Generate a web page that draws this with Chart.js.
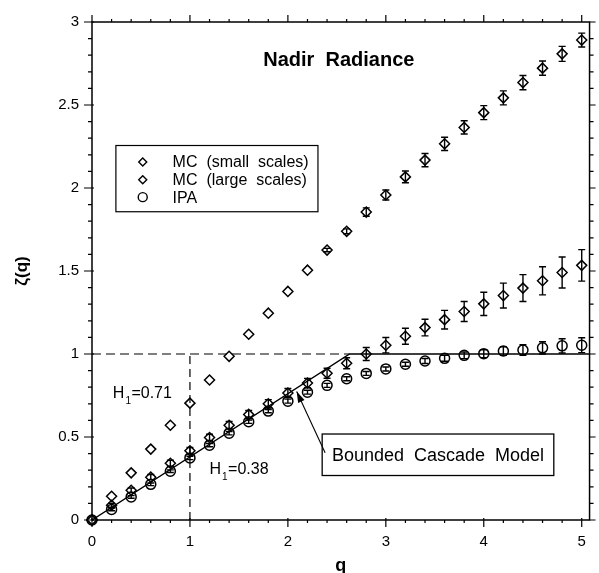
<!DOCTYPE html>
<html>
<head>
<meta charset="utf-8">
<title>Nadir Radiance</title>
<script src="https://cdn.jsdelivr.net/npm/chart.js@4.4.1/dist/chart.umd.min.js"></script>
<style>
    html, body { margin: 0; padding: 0; background: #fff; }
    #wrap { width: 599px; height: 573px; }
</style>
</head>
<body>
<div id="wrap"><canvas id="zetaChart" width="599" height="573"></canvas></div>
<script>
// Moment orders q
const qValues = [0, 0.2, 0.4, 0.6, 0.8, 1, 1.2, 1.4, 1.6, 1.8, 2, 2.2, 2.4,
    2.6, 2.8, 3, 3.2, 3.4, 3.6, 3.8, 4, 4.2, 4.4, 4.6, 4.8, 5];

// zeta(q) for each series, with +/- error
const mcSmall = [0, 0.143, 0.284, 0.427, 0.571, 0.704, 0.843, 0.986, 1.119, 1.246, 1.377, 1.505, 1.626,
    1.739, 1.855, 1.958, 2.067, 2.168, 2.266, 2.365, 2.454, 2.543, 2.635, 2.722, 2.808, 2.891];
const mcSmallErr = [0, 0, 0, 0, 0, 0, 0, 0, 0, 0, 0, 0, 0.01,
    0.015, 0.025, 0.03, 0.035, 0.04, 0.04, 0.04, 0.042, 0.042, 0.043, 0.043, 0.045, 0.042];

const mcLarge = [0, 0.089, 0.179, 0.258, 0.342, 0.417, 0.497, 0.571, 0.636, 0.700, 0.765, 0.825, 0.884,
    0.944, 1.000, 1.053, 1.107, 1.159, 1.207, 1.256, 1.302, 1.352, 1.397, 1.441, 1.491, 1.534];
const mcLargeErr = [0, 0.012, 0.014, 0.016, 0.018, 0.02, 0.02, 0.022, 0.024, 0.025, 0.027, 0.028, 0.03,
    0.033, 0.039, 0.046, 0.048, 0.05, 0.056, 0.06, 0.07, 0.075, 0.081, 0.085, 0.093, 0.095];

const ipa = [0, 0.064, 0.139, 0.215, 0.294, 0.374, 0.451, 0.523, 0.592, 0.656, 0.716, 0.770, 0.811,
    0.851, 0.883, 0.910, 0.938, 0.958, 0.974, 0.992, 1.002, 1.018, 1.024, 1.037, 1.049, 1.053];
const ipaErr = [0, 0.008, 0.008, 0.008, 0.008, 0.01, 0.01, 0.01, 0.01, 0.01, 0.012, 0.012, 0.012,
    0.012, 0.012, 0.012, 0.012, 0.015, 0.018, 0.02, 0.024, 0.026, 0.032, 0.037, 0.043, 0.045];

// Bounded cascade model, zeta = min(0.38 q, 1)
const modelQ = [0, 2.63, 5.08];
const modelZeta = [0, 1, 1];

// Dashed guides
const hGuideQ = [0, 2.63];
const hGuideZeta = [1, 1];
const vGuideQ = [1, 1];
const vGuideZeta = [0, 1];

// Axis ticks
const xTicks = [0, 1, 2, 3, 4, 5];
const yTicks = [0, 0.5, 1, 1.5, 2, 2.5, 3];

const FONT = '"Liberation Sans", Arial, Helvetica, sans-serif';

const toPoints = (xs, ys) => xs.map((x, i) => ({ x: x, y: ys[i] }));

function markerSet(label, values, errors, style) {
    return {
        label: label,
        data: toPoints(qValues, values),
        errors: errors,
        showLine: false,
        clip: false,
        pointStyle: style,
        pointRadius: 5,
        pointBorderWidth: 1.5,
        borderColor: '#000',
        backgroundColor: 'rgba(0,0,0,0)'
    };
}

function lineSet(xs, ys, dash) {
    return {
        label: '',
        data: toPoints(xs, ys),
        showLine: true,
        pointRadius: 0,
        borderColor: '#000',
        borderWidth: dash ? 1.2 : 1.4,
        borderDash: dash || [],
        fill: false
    };
}

// Vertical error bars with caps
const errorBars = {
    id: 'errorBars',
    afterDatasetsDraw(chart) {
        const ctx = chart.ctx;
        const yScale = chart.scales.y;
        ctx.save();
        ctx.strokeStyle = '#000';
        ctx.lineWidth = 1.4;
        chart.data.datasets.forEach((ds, di) => {
            if (!ds.errors) return;
            const meta = chart.getDatasetMeta(di);
            meta.data.forEach((pt, i) => {
                const e = ds.errors[i];
                if (!e) return;
                const v = ds.data[i].y;
                const top = yScale.getPixelForValue(v + e);
                const bot = yScale.getPixelForValue(v - e);
                ctx.beginPath();
                ctx.moveTo(pt.x, top);
                ctx.lineTo(pt.x, bot);
                ctx.moveTo(pt.x - 3.5, top);
                ctx.lineTo(pt.x + 3.5, top);
                ctx.moveTo(pt.x - 3.5, bot);
                ctx.lineTo(pt.x + 3.5, bot);
                ctx.stroke();
            });
        });
        ctx.restore();
    }
};

function diamond(ctx, x, y, r) {
    ctx.beginPath();
    ctx.moveTo(x - r, y);
    ctx.lineTo(x, y - r);
    ctx.lineTo(x + r, y);
    ctx.lineTo(x, y + r);
    ctx.closePath();
    ctx.stroke();
}

function circle(ctx, x, y, r) {
    ctx.beginPath();
    ctx.arc(x, y, r, 0, Math.PI * 2);
    ctx.stroke();
}

// Frame, tick marks, title, legend and annotations
const decorations = {
    id: 'decorations',
    afterDraw(chart) {
        const ctx = chart.ctx;
        const xs = chart.scales.x;
        const ys = chart.scales.y;
        const px = q => xs.getPixelForValue(q);
        const py = z => ys.getPixelForValue(z);
        const area = chart.chartArea;
        const left = area.left, right = area.right, top = area.top, bottom = area.bottom;

        ctx.save();
        ctx.strokeStyle = '#000';
        ctx.fillStyle = '#000';

        // frame
        ctx.lineWidth = 1.5;
        ctx.strokeRect(left, top, right - left, bottom - top);

        // x ticks every 0.2, major on integers
        ctx.lineWidth = 1.2;
        ctx.beginPath();
        for (let k = 0; k <= 25; k++) {
            const x = px(k * 0.2);
            const major = k % 5 === 0;
            ctx.moveTo(x, bottom - (major ? 2 : 0));
            ctx.lineTo(x, bottom + (major ? 7 : 3));
            ctx.moveTo(x, top);
            ctx.lineTo(x, top - (major ? 7 : 3));
        }
        // y ticks every 0.1, major on halves
        for (let k = 0; k <= 30; k++) {
            const y = py(k * 0.1);
            const major = k % 5 === 0;
            ctx.moveTo(left + (major ? 2 : 0), y);
            ctx.lineTo(left - (major ? 8 : 4), y);
            ctx.moveTo(right, y);
            ctx.lineTo(right + (major ? 6 : 4), y);
        }
        ctx.stroke();

        // title
        ctx.font = 'bold 20px ' + FONT;
        ctx.textAlign = 'center';
        ctx.textBaseline = 'alphabetic';
        ctx.fillText('Nadir  Radiance', px(2.52), py(2.732));

        // legend
        const lx0 = px(0.244), ly0 = py(2.256), lx1 = px(2.307), ly1 = py(1.857);
        ctx.lineWidth = 1.2;
        ctx.strokeRect(lx0, ly0, lx1 - lx0, ly1 - ly0);
        const rows = [2.157, 2.05, 1.945];
        ctx.font = '16px ' + FONT;
        ctx.textAlign = 'left';
        ctx.textBaseline = 'middle';
        ctx.lineWidth = 1.4;
        [0, 1, 2].forEach(i => {
            const ds = chart.data.datasets[i];
            const y = py(rows[i]);
            if (ds.pointStyle === 'circle') circle(ctx, px(0.518), y, 4.5);
            else diamond(ctx, px(0.518), y, 4);
            ctx.fillText(ds.label, px(0.823), y + 1);
        });

        // exponent labels
        const hLabel = (q, z, value) => {
            const x = px(q), y = py(z);
            ctx.textAlign = 'left';
            ctx.textBaseline = 'alphabetic';
            ctx.font = '16px ' + FONT;
            ctx.fillText('H', x, y);
            const hw = ctx.measureText('H').width;
            ctx.font = '10px ' + FONT;
            ctx.fillText('1', x + hw + 1, y + 6);
            ctx.font = '16px ' + FONT;
            ctx.fillText('=' + value, x + hw + 7, y);
        };
        hLabel(0.213, 0.732, '0.71');
        hLabel(1.2, 0.278, '0.38');

        // model callout
        const bx0 = px(2.35), by0 = py(0.518), bx1 = px(4.715), by1 = py(0.268);
        ctx.fillStyle = '#fff';
        ctx.fillRect(bx0, by0, bx1 - bx0, by1 - by0);
        ctx.fillStyle = '#000';
        ctx.lineWidth = 1.3;
        ctx.strokeRect(bx0, by0, bx1 - bx0, by1 - by0);
        ctx.font = '18px ' + FONT;
        ctx.textAlign = 'center';
        ctx.textBaseline = 'middle';
        ctx.fillText('Bounded  Cascade  Model', (bx0 + bx1) / 2, (by0 + by1) / 2 + 1);

        const tx = px(2.38), ty = py(0.405);
        const hx = px(2.09), hy = py(0.774);
        const ang = Math.atan2(hy - ty, hx - tx);
        ctx.lineWidth = 1.1;
        ctx.beginPath();
        ctx.moveTo(tx, ty);
        ctx.lineTo(hx, hy);
        ctx.stroke();
        ctx.beginPath();
        ctx.moveTo(hx, hy);
        ctx.lineTo(hx - 11 * Math.cos(ang) + 3.5 * Math.sin(ang), hy - 11 * Math.sin(ang) - 3.5 * Math.cos(ang));
        ctx.lineTo(hx - 11 * Math.cos(ang) - 3.5 * Math.sin(ang), hy - 11 * Math.sin(ang) + 3.5 * Math.cos(ang));
        ctx.closePath();
        ctx.fill();

        ctx.restore();
    }
};

const ctx = document.getElementById('zetaChart').getContext('2d');
const zetaChart = new Chart(ctx, {
    type: 'scatter',
    data: {
        datasets: [
            markerSet('MC  (small  scales)', mcSmall, mcSmallErr, 'rectRot'),
            markerSet('MC  (large  scales)', mcLarge, mcLargeErr, 'rectRot'),
            markerSet('IPA', ipa, ipaErr, 'circle'),
            lineSet(modelQ, modelZeta),
            lineSet(hGuideQ, hGuideZeta, [9, 5]),
            lineSet(vGuideQ, vGuideZeta, [8, 5])
        ]
    },
    options: {
        responsive: false,
        animation: false,
        layout: {
            padding: { top: 16, right: 7, left: 0, bottom: 0 }
        },
        plugins: {
            legend: { display: false },
            tooltip: { enabled: false }
        },
        scales: {
            x: {
                type: 'linear',
                min: 0,
                max: 5.08,
                afterBuildTicks: scale => { scale.ticks = xTicks.map(v => ({ value: v })); },
                afterFit: scale => { scale.height = 53; },
                grid: { display: false, drawTicks: false },
                border: { display: false },
                ticks: {
                    color: '#000',
                    padding: 13,
                    maxRotation: 0,
                    callback: v => String(v),
                    font: { family: FONT, size: 15 }
                },
                title: {
                    display: true,
                    text: 'q',
                    color: '#000',
                    padding: 0,
                    font: { family: FONT, size: 18, weight: 'bold', lineHeight: 0.8 }
                }
            },
            y: {
                type: 'linear',
                min: 0,
                max: 3,
                afterBuildTicks: scale => { scale.ticks = yTicks.map(v => ({ value: v })); },
                afterFit: scale => { scale.width = 92; },
                grid: { display: false, drawTicks: false },
                border: { display: false },
                ticks: {
                    color: '#000',
                    padding: 13,
                    callback: v => String(v),
                    font: { family: FONT, size: 15 }
                },
                title: {
                    display: true,
                    text: 'ζ(q)',
                    color: '#000',
                    padding: { top: 12, bottom: 0 },
                    font: { family: FONT, size: 17, weight: 'bold' }
                }
            }
        }
    },
    plugins: [errorBars, decorations]
});
</script>
</body>
</html>
